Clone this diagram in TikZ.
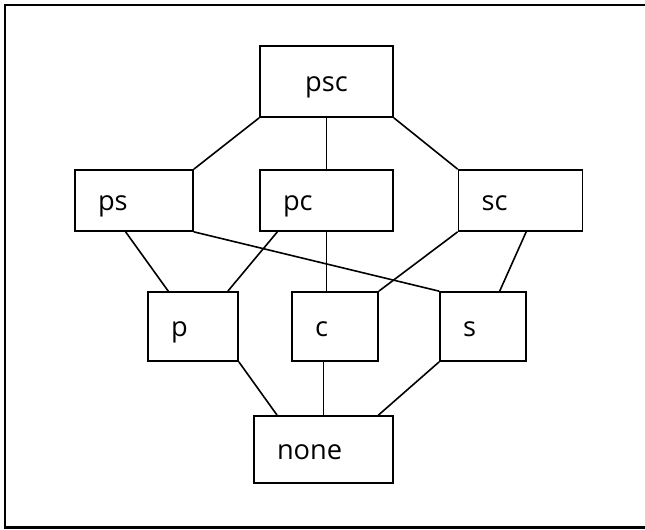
\documentclass[tikz,border=0pt]{standalone}
\usepackage{fontspec}
\setmainfont{Open Sans}
\usepackage{tikz}
\usetikzlibrary{positioning,calc}

\tikzset{
	lattice/.style={draw, line width=0.034cm, inner xsep=0.46cm, inner ysep=0pt, align=left, text height=0.4cm, text depth=0cm, font=\fontsize{15.5pt}{18pt}\selectfont},
	edge/.style={line width=0.032cm}
}

\begin{document}
\begin{tikzpicture}[x=0.02cm, y=-0.02cm]
	\useasboundingbox (0,0) rectangle (645,529);
	\draw[line width=0.045cm] (5,5) rectangle (660,527.5);
	\node[lattice, align=center, text width=1.74cm, minimum height=1.42cm] (psc) at (326.5,81.5) {psc};
	\node[lattice, text width=1.44cm, minimum height=1.22cm] (ps) at (134,200.5) {ps};
	\node[lattice, text width=1.74cm, minimum height=1.22cm] (pc) at (326.5,200.5) {pc};
	\node[lattice, text width=1.56cm, minimum height=1.22cm] (sc) at (520.5,200.5) {sc};
	\node[lattice, text width=0.88cm, minimum height=1.38cm] (p) at (193,326.5) {p};
	\node[lattice, text width=0.8cm, minimum height=1.38cm] (c) at (335,326.5) {c};
	\node[lattice, text width=0.8cm, minimum height=1.38cm] (s) at (483,326.5) {s};
	\node[lattice, text width=1.86cm, minimum height=1.34cm] (none) at (323.5,449.5) {none};
	\draw[edge] (psc.south west) -- (ps.north east);
	\draw[edge] (psc.south) -- (pc.north);
	\draw[edge] (psc.south east) -- (sc.north west);
	\draw[edge] ($(ps.south west)!0.43!(ps.south east)$) -- ($(p.north west)!0.23!(p.north east)$);
	\draw[edge] (ps.south east) -- (s.north west);
	\draw[edge] ($(pc.south west)!0.135!(pc.south east)$) -- ($(p.north west)!0.88!(p.north east)$);
	\draw[edge] (pc.south) -- (pc.south |- c.north);
	\draw[edge] (sc.south west) -- (c.north east);
	\draw[edge] ($(sc.south west)!0.545!(sc.south east)$) -- ($(s.north west)!0.69!(s.north east)$);
	\draw[edge] (p.south east) -- ($(none.north west)!0.17!(none.north east)$);
	\draw[edge] (none.north |- c.south) -- (none.north);
	\draw[edge] (s.south west) -- ($(none.north west)!0.89!(none.north east)$);
\end{tikzpicture}
\end{document}
